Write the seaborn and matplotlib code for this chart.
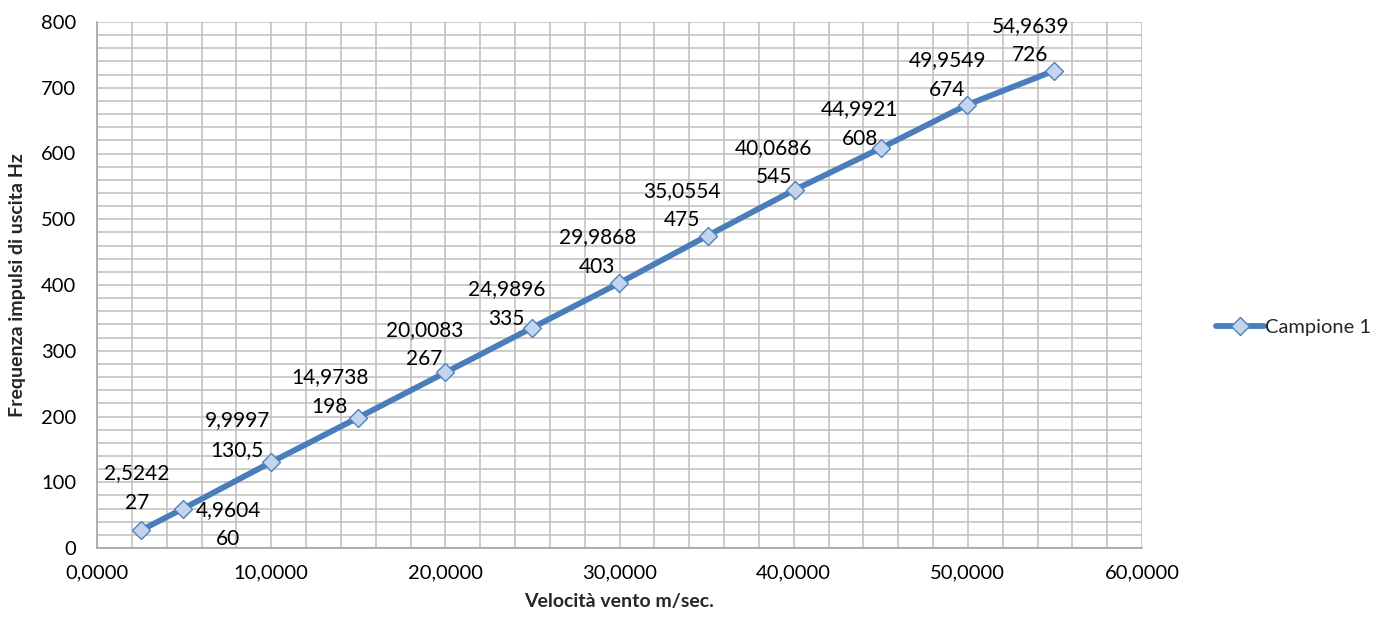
import matplotlib
matplotlib.use("Agg")
import matplotlib.pyplot as plt
from matplotlib.ticker import MultipleLocator, FuncFormatter
import seaborn as sns
import pandas as pd

# Wind speed (m/s) and output pulse frequency (Hz)
velocita = [2.5242, 4.9604, 9.9997, 14.9738, 20.0083, 24.9896,
            29.9868, 35.0554, 40.0686, 44.9921, 49.9549, 54.9639]
frequenza = [27, 60, 130.5, 198, 267, 335, 403, 475, 545, 608, 674, 726]
serie = "Campione 1"

# Offsets (pixels) of each data label's centre from its point
label_offsets = [(-4, 42), (45, -16), (-34, 27), (-28, 26), (-21, 28), (-26, 24),
                 (-22, 31), (-26, 30), (-21, 27), (-21, 24), (-20, 30), (-24, 30)]

df = pd.DataFrame({"x": velocita, "y": frequenza, "serie": serie})

sns.set_style("white")
plt.rcParams["font.family"] = ["Lato", "DejaVu Sans"]

W, H = 1384, 623
fig = plt.figure(figsize=(W / 100, H / 100), dpi=100)
ax = fig.add_axes([97 / W, 1 - 548 / H, (1142 - 97) / W, (548 - 22) / H])

line_col = "#4A7EBB"
grid_col = "#BEBEBE"

sns.lineplot(data=df, x="x", y="y", hue="serie", palette=[line_col], sort=False,
             marker="D", markersize=9, markerfacecolor="#C3D4EC",
             markeredgecolor="#4F81BD", markeredgewidth=1.0,
             linewidth=4.2, ax=ax, zorder=3)

ax.set_xlim(0, 60)
ax.set_ylim(0, 800)
ax.xaxis.set_major_locator(MultipleLocator(10))
ax.xaxis.set_minor_locator(MultipleLocator(2))
ax.yaxis.set_major_locator(MultipleLocator(100))
ax.yaxis.set_minor_locator(MultipleLocator(20))
ax.xaxis.set_major_formatter(FuncFormatter(lambda v, p: f"{v:.4f}".replace(".", ",")))
ax.yaxis.set_major_formatter(FuncFormatter(lambda v, p: f"{v:.0f}"))

ax.grid(True, which="both", color=grid_col, linewidth=1.1)
ax.set_axisbelow(True)
for side in ["top", "right"]:
    ax.spines[side].set_visible(False)
for side in ["left", "bottom"]:
    ax.spines[side].set_color("#9E9E9E")
    ax.spines[side].set_linewidth(1.1)

ax.tick_params(axis="both", which="major", direction="out", length=5,
               width=1.1, color="#9E9E9E", labelsize=14.5, labelcolor="black")
ax.tick_params(axis="x", which="major", pad=7)
ax.tick_params(axis="y", which="major", pad=10)
ax.tick_params(which="minor", length=0)

ax.set_xlabel("Velocità vento m/sec.", fontsize=14, fontweight="bold", labelpad=8)
ax.set_ylabel("Frequenza impulsi di uscita Hz", fontsize=14, fontweight="bold", labelpad=11)


def fmt_num(v, decimals=None):
    if decimals is not None:
        s = f"{v:.{decimals}f}"
    elif float(v).is_integer():
        s = f"{int(v)}"
    else:
        s = f"{v:g}"
    return s.replace(".", ",")


for xv, yv, (dx, dy) in zip(velocita, frequenza, label_offsets):
    ax.annotate(f"{fmt_num(xv, 4)}\n{fmt_num(yv)}", xy=(xv, yv),
                xytext=(dx, dy), textcoords="offset pixels",
                ha="center", va="center", fontsize=15, linespacing=1.6,
                color="black", zorder=4)

leg = ax.legend(loc="center left", bbox_to_anchor=(1216 / W, 1 - 327 / H),
                bbox_transform=fig.transFigure, frameon=False, fontsize=14.5,
                handlelength=2.4, handletextpad=0.05, borderaxespad=0,
                borderpad=0)
for h in leg.legend_handles:
    h.set_linewidth(4.2)

fig.savefig("out.png", dpi=100)
